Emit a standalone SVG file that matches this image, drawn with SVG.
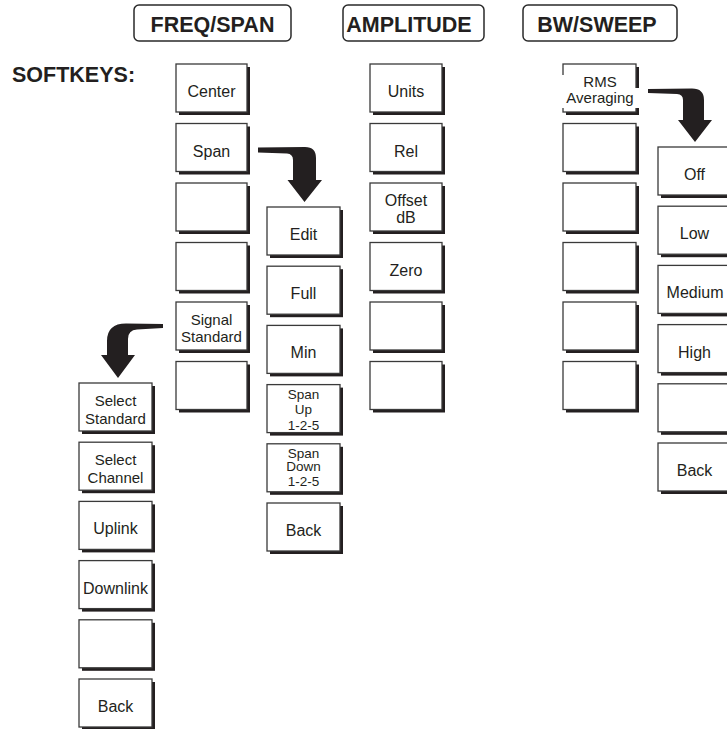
<svg xmlns="http://www.w3.org/2000/svg" width="727" height="729" viewBox="0 0 727 729">
<defs>
<style>
.hdr{fill:#fff;stroke:#2a2a2a;stroke-width:1.5}
.ht{font-family:"Liberation Sans",Arial,sans-serif;font-weight:bold;font-size:21.5px;fill:#231f20;text-anchor:middle}
.sh{fill:#231f20}
.bx{fill:#fff;stroke:#3a3a3a;stroke-width:1.3}
.t{font-family:"Liberation Sans",Arial,sans-serif;font-size:16px;fill:#231f20;text-anchor:middle}
.t2{font-family:"Liberation Sans",Arial,sans-serif;font-size:15px;fill:#231f20;text-anchor:middle}
.t3{font-family:"Liberation Sans",Arial,sans-serif;font-size:13.5px;fill:#231f20;text-anchor:middle}
.arr{fill:#231f20}
</style>
</defs>
<rect width="727" height="729" fill="#fff"/>

<g id="header-freq"><rect class="hdr" x="134" y="5" width="157" height="36" rx="5"/><text class="ht" x="212.5" y="31.5">FREQ/SPAN</text></g>
<g id="header-amp"><rect class="hdr" x="343" y="5" width="141" height="36" rx="5"/><text class="ht" x="409" y="31.5">AMPLITUDE</text></g>
<g id="header-bw"><rect class="hdr" x="523" y="5" width="154" height="36" rx="5"/><text class="ht" x="597" y="31.5">BW/SWEEP</text></g>
<text id="softkeys" class="ht" x="12" y="81.5" style="text-anchor:start">SOFTKEYS:</text>

<!-- FREQ/SPAN column -->
<g id="center"><rect class="sh" x="179" y="67" width="71" height="48"/><rect class="bx" x="176" y="64" width="71" height="48"/><text class="t" x="211.5" y="97">Center</text></g>
<g id="span"><rect class="sh" x="179" y="126.5" width="71" height="48"/><rect class="bx" x="176" y="123.5" width="71" height="48"/><text class="t" x="211.5" y="156.5">Span</text></g>
<g id="freq-blank1"><rect class="sh" x="179" y="186" width="71" height="48"/><rect class="bx" x="176" y="183" width="71" height="48"/></g>
<g id="freq-blank2"><rect class="sh" x="179" y="245.5" width="71" height="48"/><rect class="bx" x="176" y="242.5" width="71" height="48"/></g>
<g id="signal-standard"><rect class="sh" x="179" y="305" width="71" height="48"/><rect class="bx" x="176" y="302" width="71" height="48"/><text class="t2" x="211.5" y="324.5">Signal</text><text class="t2" x="211.5" y="341.5">Standard</text></g>
<g id="freq-blank3"><rect class="sh" x="179" y="364.5" width="71" height="48"/><rect class="bx" x="176" y="361.5" width="71" height="48"/></g>

<!-- Span submenu -->
<g id="edit"><rect class="sh" x="270" y="210" width="73" height="48"/><rect class="bx" x="267" y="207" width="73" height="48"/><text class="t" x="303.5" y="240">Edit</text></g>
<g id="full"><rect class="sh" x="270" y="269.2" width="73" height="48"/><rect class="bx" x="267" y="266.2" width="73" height="48"/><text class="t" x="303.5" y="299.2">Full</text></g>
<g id="min"><rect class="sh" x="270" y="328.4" width="73" height="48"/><rect class="bx" x="267" y="325.4" width="73" height="48"/><text class="t" x="303.5" y="358.4">Min</text></g>
<g id="span-up"><rect class="sh" x="270" y="387.6" width="73" height="48"/><rect class="bx" x="267" y="384.6" width="73" height="48"/><text class="t3" x="303.5" y="398.8">Span</text><text class="t3" x="303.5" y="413.5">Up</text><text class="t3" x="303.5" y="429.8">1-2-5</text></g>
<g id="span-down"><rect class="sh" x="270" y="446.8" width="73" height="48"/><rect class="bx" x="267" y="443.8" width="73" height="48"/><text class="t3" x="303.5" y="457.5">Span</text><text class="t3" x="303.5" y="471">Down</text><text class="t3" x="303.5" y="485.5">1-2-5</text></g>
<g id="span-back"><rect class="sh" x="270" y="506" width="73" height="48"/><rect class="bx" x="267" y="503" width="73" height="48"/><text class="t" x="303.5" y="536">Back</text></g>

<!-- Signal Standard submenu -->
<g id="select-standard"><rect class="sh" x="82" y="386" width="73" height="48"/><rect class="bx" x="79" y="383" width="73" height="48"/><text class="t2" x="115.5" y="406">Select</text><text class="t2" x="115.5" y="424">Standard</text></g>
<g id="select-channel"><rect class="sh" x="82" y="445.2" width="73" height="48"/><rect class="bx" x="79" y="442.2" width="73" height="48"/><text class="t2" x="115.5" y="465.2">Select</text><text class="t2" x="115.5" y="483.2">Channel</text></g>
<g id="uplink"><rect class="sh" x="82" y="504.4" width="73" height="48"/><rect class="bx" x="79" y="501.4" width="73" height="48"/><text class="t" x="115.5" y="534.4">Uplink</text></g>
<g id="downlink"><rect class="sh" x="82" y="563.6" width="73" height="48"/><rect class="bx" x="79" y="560.6" width="73" height="48"/><text class="t" x="115.5" y="593.6">Downlink</text></g>
<g id="sig-blank"><rect class="sh" x="82" y="622.8" width="73" height="48"/><rect class="bx" x="79" y="619.8" width="73" height="48"/></g>
<g id="sig-back"><rect class="sh" x="82" y="682" width="73" height="48"/><rect class="bx" x="79" y="679" width="73" height="48"/><text class="t" x="115.5" y="712">Back</text></g>

<!-- AMPLITUDE column -->
<g id="units"><rect class="sh" x="373" y="67" width="72" height="48"/><rect class="bx" x="370" y="64" width="72" height="48"/><text class="t" x="406" y="97">Units</text></g>
<g id="rel"><rect class="sh" x="373" y="126.5" width="72" height="48"/><rect class="bx" x="370" y="123.5" width="72" height="48"/><text class="t" x="406" y="156.5">Rel</text></g>
<g id="offset-db"><rect class="sh" x="373" y="186" width="72" height="48"/><rect class="bx" x="370" y="183" width="72" height="48"/><text class="t" x="406" y="205.5">Offset</text><text class="t" x="406" y="223">dB</text></g>
<g id="zero"><rect class="sh" x="373" y="245.5" width="72" height="48"/><rect class="bx" x="370" y="242.5" width="72" height="48"/><text class="t" x="406" y="275.5">Zero</text></g>
<g id="amp-blank1"><rect class="sh" x="373" y="305" width="72" height="48"/><rect class="bx" x="370" y="302" width="72" height="48"/></g>
<g id="amp-blank2"><rect class="sh" x="373" y="364.5" width="72" height="48"/><rect class="bx" x="370" y="361.5" width="72" height="48"/></g>

<!-- BW/SWEEP column -->
<g id="rms-averaging"><rect class="sh" x="566" y="67" width="73" height="48"/><rect class="bx" x="563" y="64" width="73" height="48"/><rect fill="#fff" x="559" y="88" width="83" height="20"/><rect fill="#fff" x="559" y="75" width="8" height="14"/><text class="t2" x="600" y="86.5">RMS</text><text class="t2" x="600" y="102.5">Averaging</text></g>
<g id="bw-blank1"><rect class="sh" x="566" y="126.5" width="73" height="48"/><rect class="bx" x="563" y="123.5" width="73" height="48"/></g>
<g id="bw-blank2"><rect class="sh" x="566" y="186" width="73" height="48"/><rect class="bx" x="563" y="183" width="73" height="48"/></g>
<g id="bw-blank3"><rect class="sh" x="566" y="245.5" width="73" height="48"/><rect class="bx" x="563" y="242.5" width="73" height="48"/></g>
<g id="bw-blank4"><rect class="sh" x="566" y="305" width="73" height="48"/><rect class="bx" x="563" y="302" width="73" height="48"/></g>
<g id="bw-blank5"><rect class="sh" x="566" y="364.5" width="73" height="48"/><rect class="bx" x="563" y="361.5" width="73" height="48"/></g>

<!-- RMS submenu -->
<g id="off"><rect class="sh" x="661" y="150" width="73" height="48"/><rect class="bx" x="658" y="147" width="73" height="48"/><text class="t" x="694.5" y="180">Off</text></g>
<g id="low"><rect class="sh" x="661" y="209.2" width="73" height="48"/><rect class="bx" x="658" y="206.2" width="73" height="48"/><text class="t" x="694.5" y="239.2">Low</text></g>
<g id="medium"><rect class="sh" x="661" y="268.4" width="73" height="48"/><rect class="bx" x="658" y="265.4" width="73" height="48"/><text class="t" x="695" y="298.4">Medium</text></g>
<g id="high"><rect class="sh" x="661" y="327.6" width="73" height="48"/><rect class="bx" x="658" y="324.6" width="73" height="48"/><text class="t" x="694.5" y="357.6">High</text></g>
<g id="rms-blank"><rect class="sh" x="661" y="386.8" width="73" height="48"/><rect class="bx" x="658" y="383.8" width="73" height="48"/></g>
<g id="rms-back"><rect class="sh" x="661" y="446" width="73" height="48"/><rect class="bx" x="658" y="443" width="73" height="48"/><text class="t" x="694.5" y="476">Back</text></g>

<!-- connectors -->
<g id="connectors">
<path class="arr" d="M258,147.5 L305,147 Q316,147 316,158 L316,180 L322,180 L304.5,202 L287.5,180 L293,180 L293,160 Q293,154 287,153.5 L258,152.5 Z"/>
<path class="arr" d="M163,324 L126,323.5 Q107,323.5 107,341 L107,355 L101,355 L118,378 L135,355 L128,355 L128,339 Q128,330 137,329.5 L163,328 Z"/>
<path class="arr" d="M648,89 L692,88.5 Q704,88.5 704,100 L704,120 L712,120 L695,142 L678,120 L683,120 L683,100 Q683,94.5 677,94 L648,93 Z"/>
</g>
</svg>
